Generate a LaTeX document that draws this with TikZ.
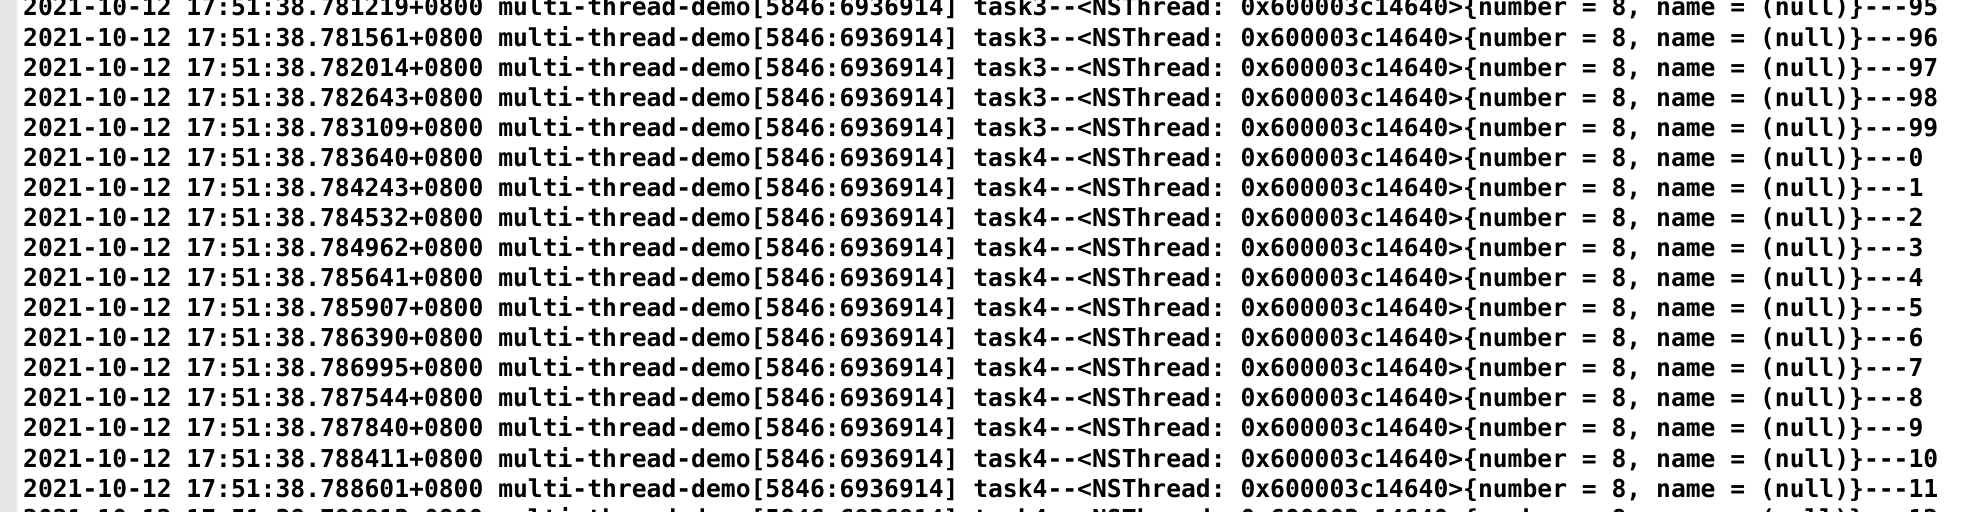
\documentclass[tikz,border=0pt]{standalone}
\usepackage{fontspec}
\newfontfamily\logfont{DejaVu Sans Mono}[Ligatures=TeXOff]
\definecolor{stripgray}{HTML}{E6E6E6}
\definecolor{stripedge}{HTML}{F2F2F2}
\newcommand\logline[3]{2021-10-12 17:51:38.#1+0800 multi-thread-demo[5846:6936914] #2--<NSThread: 0x600003c14640>\{number = 8, name = (null)\}---#3}
\tikzset{
  logrow/.style={anchor=base west, inner sep=0pt, outer sep=0pt, text=black,
    font=\logfont\bfseries\fontsize{12.33pt}{14pt}\selectfont\frenchspacing}
}
\begin{document}
\begin{tikzpicture}[x=1pt,y=1pt]
\useasboundingbox (0,0) rectangle (990,256);
\fill[white] (0,0) rectangle (990,256);
\fill[stripgray] (0,0) rectangle (8,256);
\fill[stripedge] (8,0) rectangle (9,256);
\begin{scope}
\clip (0,0) rectangle (990,256);
\node[logrow] (r1)  at (11.6,248.000) {\logline{781219}{task3}{95}};
\node[logrow] (r2)  at (11.6,232.965) {\logline{781561}{task3}{96}};
\node[logrow] (r3)  at (11.6,217.930) {\logline{782014}{task3}{97}};
\node[logrow] (r4)  at (11.6,202.895) {\logline{782643}{task3}{98}};
\node[logrow] (r5)  at (11.6,187.860) {\logline{783109}{task3}{99}};
\node[logrow] (r6)  at (11.6,172.825) {\logline{783640}{task4}{0}};
\node[logrow] (r7)  at (11.6,157.790) {\logline{784243}{task4}{1}};
\node[logrow] (r8)  at (11.6,142.755) {\logline{784532}{task4}{2}};
\node[logrow] (r9)  at (11.6,127.720) {\logline{784962}{task4}{3}};
\node[logrow] (r10) at (11.6,112.685) {\logline{785641}{task4}{4}};
\node[logrow] (r11) at (11.6,97.650)  {\logline{785907}{task4}{5}};
\node[logrow] (r12) at (11.6,82.615)  {\logline{786390}{task4}{6}};
\node[logrow] (r13) at (11.6,67.580)  {\logline{786995}{task4}{7}};
\node[logrow] (r14) at (11.6,52.545)  {\logline{787544}{task4}{8}};
\node[logrow] (r15) at (11.6,37.510)  {\logline{787840}{task4}{9}};
\node[logrow] (r16) at (11.6,22.475)  {\logline{788411}{task4}{10}};
\node[logrow] (r17) at (11.6,7.440)   {\logline{788601}{task4}{11}};
\node[logrow] (r18) at (11.6,-7.595)  {\logline{788913}{task4}{12}};
\end{scope}
\end{tikzpicture}
\end{document}
